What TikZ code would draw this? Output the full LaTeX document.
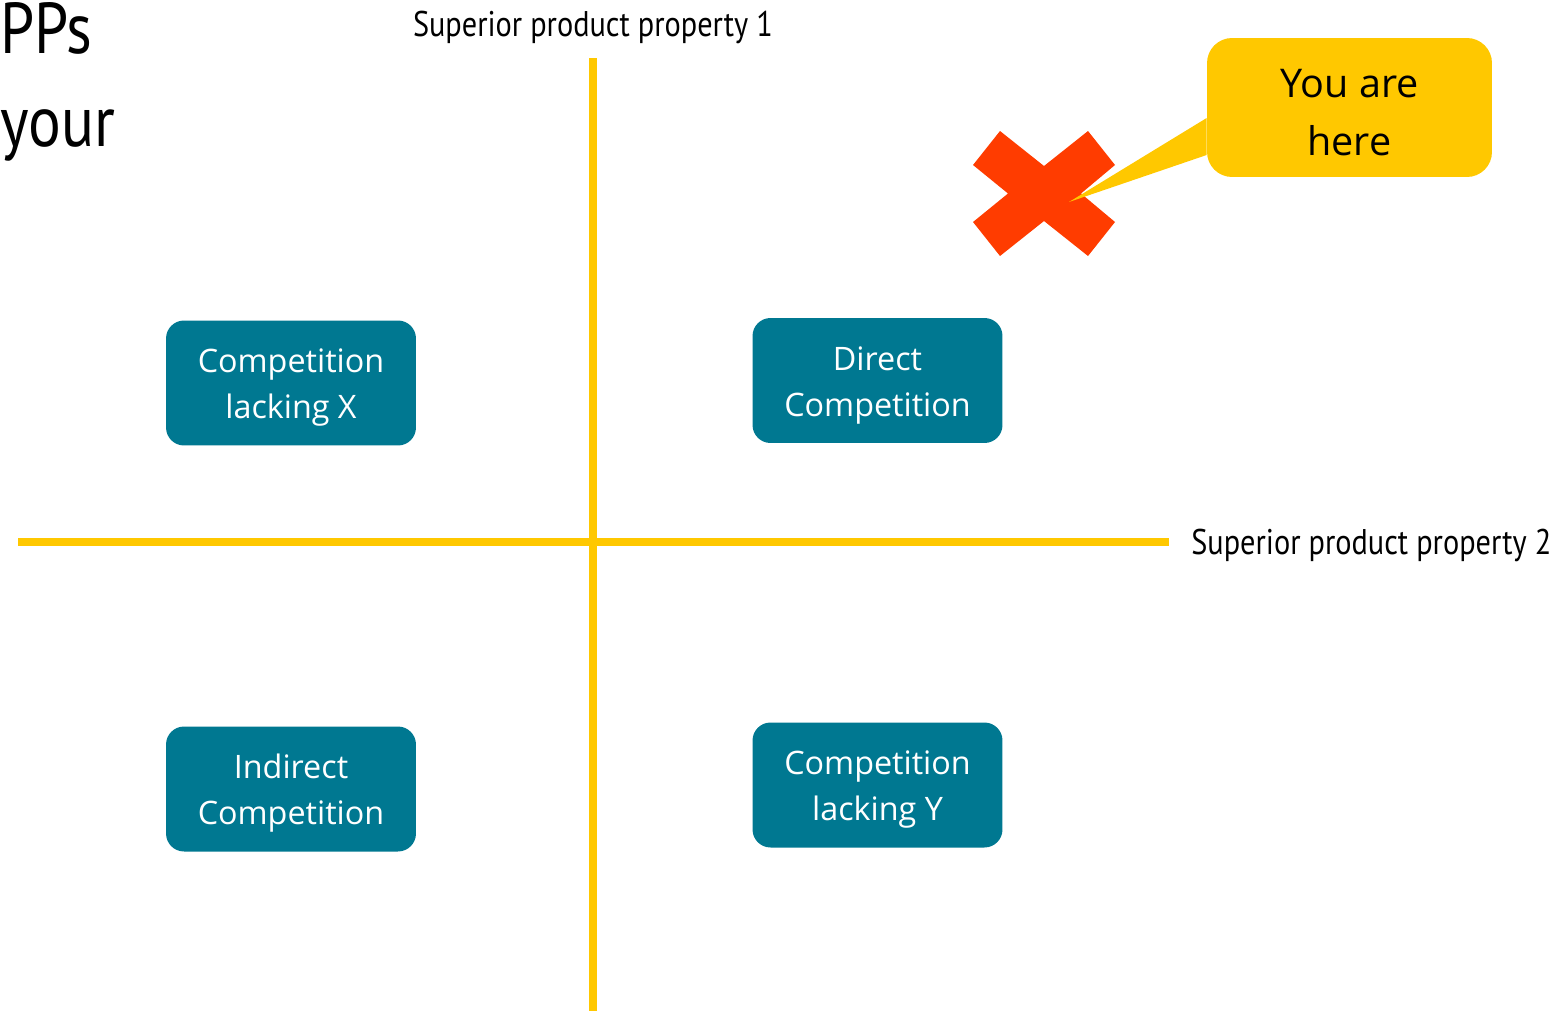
\documentclass[tikz,border=0pt]{standalone}
\usepackage{fontspec}
\setmainfont{Open Sans}
\newfontfamily\narrowfont[FakeStretch=0.85]{PT Sans}
\usepackage{xcolor}
\usetikzlibrary{positioning}

\definecolor{axisyellow}{HTML}{FFC800}
\definecolor{boxteal}{HTML}{007891}
\definecolor{markred}{HTML}{FF3C00}

\begin{document}
\begin{tikzpicture}[
            x=0.02cm, y=-0.02cm,
            quadrant/.style={
                rectangle, 
                rounded corners=0.36cm, 
                fill=boxteal, 
                text=white, 
                minimum width=5cm, 
                minimum height=2.5cm, 
                text height=45pt, 
                align=center,
                font=\fontsize{18.4}{26}\selectfont
            },
            callout/.style={
                fill=axisyellow
            },
            axis/.style={
                draw=axisyellow, 
                line width=4pt
            },
            axislabel/.style={
                inner sep=0pt, 
                font=\narrowfont\fontsize{20.3}{24}\selectfont
            }
        ]
        \useasboundingbox (0,0) rectangle (1565,1011);
        
        % Axes
        \coordinate (top) at (593,58);
        \coordinate (bottom) at (593,1011);
        \coordinate (left) at (18,542);
        \coordinate (right) at (1169,542);
        \draw[axis] (top) -- (bottom);
        \draw[axis] (left) -- (right);
        
        % Axis labels
        \node (prop1) [axislabel] at (593,27) {Superior product property 1};
        \node (prop2) [axislabel, anchor=west] at (1191,545) {Superior product property 2};
        
        % Heading text, cut off at the edge
        \node (heading) [inner sep=0pt, anchor=north west, align=left,
            font=\narrowfont\fontsize{41}{53}\selectfont] at (0,2) {PPs\\your};
        
        % Quadrants
        \node (lackx) [quadrant] at (291,383) {Competition\\lacking X};
        \node (direct) [quadrant] at (877.5,380.5) {Direct\\Competition};
        \node (indirect) [quadrant] at (291,789) {Indirect\\Competition};
        \node (lacky) [quadrant] at (877.5,785) {Competition\\lacking Y};
        
        % Red cross
        \coordinate (mark) at (1069,202);
        \fill[markred] (1000,131) -- (1044,166) -- (1088,131) -- (1115,165)
            -- (1081,193.5) -- (1115,222) -- (1088,256) -- (1044,221)
            -- (1000,256) -- (973,222) -- (1008,193.5) -- (973,165) -- cycle;
        
        % Speech bubble
        \node (youarehere) [callout, rounded corners=0.5cm, minimum width=5.7cm,
            minimum height=2.78cm, text height=55pt, align=center,
            font=\fontsize{22.5}{33}\selectfont] at (1349.5,107.5) {You are\\here};
        \fill[callout] ([yshift=-0.21cm]youarehere.west) -- (mark)
            -- ([yshift=-0.95cm]youarehere.west) -- cycle;
        
        \end{tikzpicture}
\end{document}
